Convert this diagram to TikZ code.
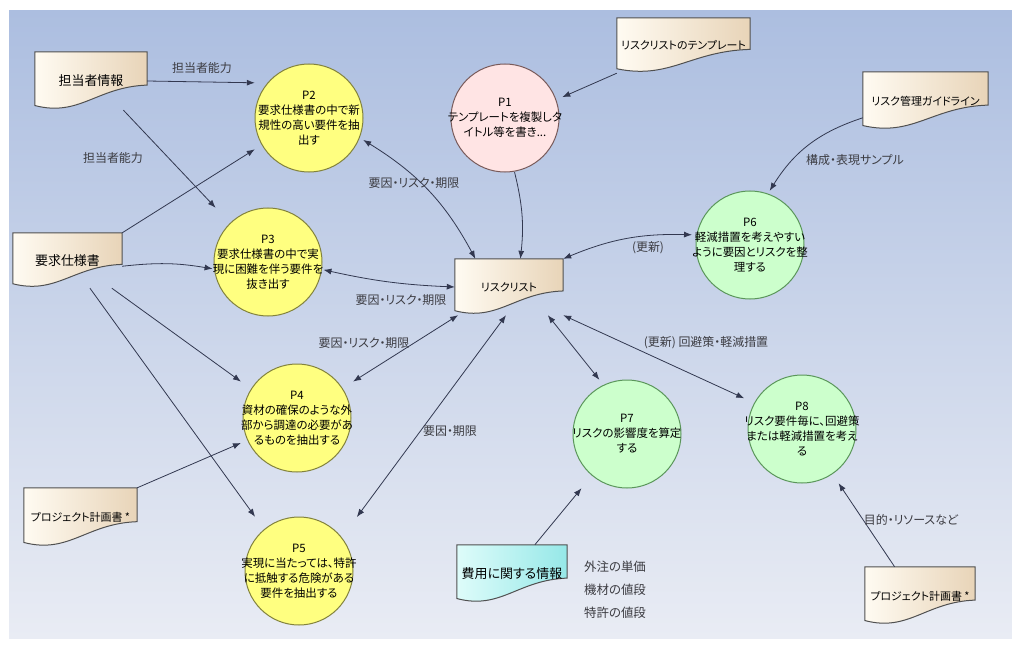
\documentclass[tikz,border=0pt]{standalone}
\usepackage{fontspec}
\setmainfont{Noto Sans CJK JP}[RawFeature=+palt]
\usetikzlibrary{arrows.meta,calc}
\pgfdeclarelayer{back}
\pgfdeclarelayer{shapes}
\pgfsetlayers{back,shapes,main}
\definecolor{bgtop}{RGB}{172,190,224}
\definecolor{bgbot}{RGB}{233,236,244}
\definecolor{docL}{RGB}{255,251,242}
\definecolor{docR}{RGB}{232,212,184}
\definecolor{cyanL}{RGB}{222,252,250}
\definecolor{cyanR}{RGB}{150,232,232}
\definecolor{docline}{RGB}{80,80,80}
\definecolor{yfill}{RGB}{255,255,128}
\definecolor{yline}{RGB}{130,130,60}
\definecolor{gfill}{RGB}{204,255,204}
\definecolor{gline}{RGB}{90,150,90}
\definecolor{pfill}{RGB}{255,228,228}
\definecolor{pline}{RGB}{120,90,90}
\definecolor{edge}{RGB}{50,56,80}
\definecolor{lbl}{RGB}{60,60,66}
\tikzset{
  every node/.style={font=\fontsize{11}{14}\selectfont},
  proc/.style={rectangle, minimum width=108bp, minimum height=108bp, inner sep=0pt, align=center, text=black, font=\fontsize{11.5}{15}\selectfont},
  docbox/.style={rectangle, inner sep=0pt, align=center, text=black},
  bigdoc/.style={font=\fontsize{13}{15}\selectfont},
  flow/.style={draw=edge, line width=0.8bp, -{Latex[length=8bp,width=6bp]}},
  bothflow/.style={draw=edge, line width=0.8bp, {Latex[length=8bp,width=6bp]}-{Latex[length=8bp,width=6bp]}},
  lab/.style={text=lbl, inner sep=1pt, font=\fontsize{12}{14}\selectfont},
  ycirc/.style={fill=yfill, draw=yline, line width=1bp},
  gcirc/.style={fill=gfill, draw=gline, line width=1bp},
  pcirc/.style={fill=pfill, draw=pline, line width=1bp},
  docfill/.style={draw=docline, line width=1bp}
}
\newcommand{\docshape}[3]{%
  \path[docfill, left color=#2, right color=#3]
    let \p1=(#1.north west), \p2=(#1.south east) in
    (\x1,\y1) -- (\x2,\y1) -- (\x2,{\y1-0.57*(\y1-\y2)})
    .. controls ({\x2-0.45*(\x2-\x1)},{\y1-0.6*(\y1-\y2)}) and ({\x1+0.4*(\x2-\x1)},{\y1-1.12*(\y1-\y2)}) ..
    (\x1,{\y1-0.92*(\y1-\y2)}) -- cycle;}
\begin{document}
\begin{tikzpicture}[x={(1bp,0)}, y={(0,-1bp)}]
\useasboundingbox (0,0) rectangle (1012,665);
\begin{pgfonlayer}{back}
  \fill[white] (0,0) rectangle (1012,665);
  \shade[top color=bgtop, bottom color=bgbot] (9,11) rectangle (1012,638);
\end{pgfonlayer}

% documents
\node[docbox, bigdoc, minimum width=112bp, minimum height=58bp] (info) at (91,81) {担当者情報};
\node[docbox, bigdoc, minimum width=109bp, minimum height=55bp] (req) at (67.5,260.5) {要求仕様書};
\node[docbox, minimum width=113bp, minimum height=59bp] (planL) at (80.5,517.5) {プロジェクト計画書 *};
\node[docbox, bigdoc, minimum width=110bp, minimum height=58bp] (cost) at (512,574) {費用に関する情報};
\node[docbox, minimum width=110bp, minimum height=58bp] (planR) at (920,596) {プロジェクト計画書 *};
\node[docbox, minimum width=133bp, minimum height=55bp] (tmpl) at (683.5,45.5) {リスクリストのテンプレート};
\node[docbox, minimum width=125bp, minimum height=58bp] (guide) at (925.5,101) {リスク管理ガイドライン};
\node[docbox, minimum width=108bp, minimum height=56bp] (risk) at (509,287) {リスクリスト};

% processes
\node[proc] (p1) at (505,118) {P1\\テンプレートを複製しタ\\イトル等を書き...};
\node[proc] (p2) at (309,118) {P2\\要求仕様書の中で新\\規性の高い要件を抽\\出す};
\node[proc] (p3) at (268,262) {P3\\要求仕様書の中で実\\現に困難を伴う要件を\\抜き出す};
\node[proc] (p4) at (297,418) {P4\\資材の確保のような外\\部から調達の必要があ\\るものを抽出する};
\node[proc] (p5) at (299,571) {P5\\実現に当たっては、特許\\に抵触する危険がある\\要件を抽出する};
\node[proc] (p6) at (750,245) {P6\\軽減措置を考えやすい\\ように要因とリスクを整\\理する};
\node[proc] (p7) at (627,434) {P7\\リスクの影響度を算定\\する};
\node[proc] (p8) at (802,429) {P8\\リスク要件毎に、回避策\\または軽減措置を考え\\る};

\begin{pgfonlayer}{shapes}
  \path[pcirc] (p1.center) circle[radius=54bp];
  \path[ycirc] (p2.center) circle[radius=54bp];
  \path[ycirc] (p3.center) circle[radius=54bp];
  \path[ycirc] (p4.center) circle[radius=54bp];
  \path[ycirc] (p5.center) circle[radius=54bp];
  \path[gcirc] (p6.center) circle[radius=54bp];
  \path[gcirc] (p7.center) circle[radius=54bp];
  \path[gcirc] (p8.center) circle[radius=54bp];
  \docshape{info}{docL}{docR}
  \docshape{req}{docL}{docR}
  \docshape{planL}{docL}{docR}
  \docshape{cost}{cyanL}{cyanR}
  \docshape{planR}{docL}{docR}
  \docshape{tmpl}{docL}{docR}
  \docshape{guide}{docL}{docR}
  \docshape{risk}{docL}{docR}
\end{pgfonlayer}

% connectors
\draw[flow] (info.east) -- (p2.147);
\draw[flow] (info.-42) -- (p3.134);
\draw[flow] (req.north east) -- (p2.210);
\draw[flow] (req.-6) to[bend left=8] (p3.187);
\draw[flow] (req.-32) -- (p4.147);
\draw[flow] (req.-51) -- (p5.129);
\draw[flow] (planL.north east) -- (p4.204);
\draw[bothflow] (p2.-22) to[bend left=15] (risk.140);
\draw[flow] (p1.-80) to[bend left=10] (risk.68);
\draw[flow] (tmpl.south west) -- (p1.20);
\draw[flow] (guide.195) to[bend right=20] (p6.70);
\draw[bothflow] (risk.north east) to[bend left=12] (p6.170);
\draw[bothflow] (p3.-8) to[bend right=5] (risk.west);
\draw[bothflow] (p4.33) -- (risk.209);
\draw[bothflow] (p5.43) -- (risk.-96);
\draw[bothflow] (risk.-36) -- (p7.117);
\draw[bothflow] (risk.south east) -- (p8.152);
\draw[flow] (cost.52) -- (p7.230);
\draw[flow] (planR.131) -- (p8.-56);

% labels
\node[lab] (l1) at (202,68) {担当者能力};
\node[lab] (l2) at (113,158) {担当者能力};
\node[lab] (l3) at (414,183) {要因・リスク・期限};
\node[lab] (l4) at (401,300) {要因・リスク・期限};
\node[lab] (l5) at (364,343) {要因・リスク・期限};
\node[lab] (l6) at (450,431) {要因・期限};
\node[lab] (l7) at (648,248) {(更新)};
\node[lab] (l8) at (855,160) {構成・表現サンプル};
\node[lab] (l9) at (706,343) {(更新) 回避策・軽減措置};
\node[lab] (l10) at (911,520) {目的・リソースなど};
\node[lab, align=center, font=\fontsize{12.5}{23}\selectfont] (note) at (615,590) {外注の単価\\機材の値段\\特許の値段};
\end{tikzpicture}
\end{document}
